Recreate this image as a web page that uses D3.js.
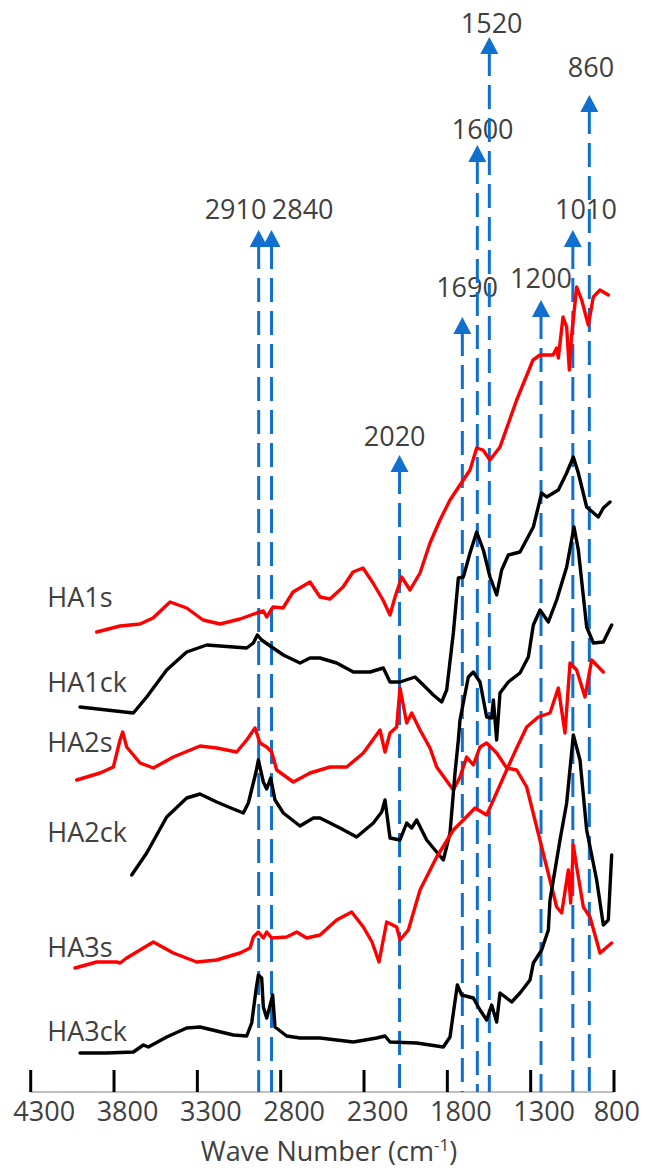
<!DOCTYPE html>
<meta charset="utf-8">
<style>
body{ margin:0; background:#fff; }
svg{ display:block; font-family:"Open Sans", "Noto Sans", sans-serif; }
.lbl{ fill:#404040; font-size:27px; }
.spec{ fill:none; stroke-width:3.4; stroke-linejoin:round; stroke-linecap:round; }
</style>
<svg width="645" height="1170"></svg>
<script src="https://d3js.org/d3.v7.min.js"></script>
<script>
// spectra: [wave number, intensity a.u. (offset)]
var ha1s = [[3904,460],[3764,466],[3644,468],[3566,474],[3464,490],[3364,484],[3266,472],[3164,468],[3044,473],[2944,479],[2904,481],[2884,475],[2846,485],[2786,484],[2726,500],[2624,510],[2564,495],[2504,493],[2426,505],[2366,520],[2306,524],[2246,509],[2186,492],[2144,477],[2114,495],[2074,515],[2024,502],[1964,519],[1904,549],[1844,572],[1784,592],[1744,602],[1664,622],[1624,644],[1586,642],[1544,632],[1484,645],[1384,692],[1286,732],[1244,737],[1166,737],[1144,744],[1134,734],[1106,775],[1084,765],[1068,722],[1054,757],[1024,805],[994,792],[954,767],[924,795],[884,802],[834,797]];
var ha1ck = [[4004,385],[3844,382],[3684,379],[3604,395],[3484,422],[3364,440],[3244,447],[3084,445],[3004,444],[2964,449],[2940,457],[2914,452],[2854,445],[2784,437],[2684,429],[2624,434],[2564,434],[2464,429],[2364,420],[2264,420],[2184,424],[2144,410],[2084,410],[1994,415],[1944,407],[1884,397],[1834,390],[1804,402],[1764,459],[1734,514],[1704,515],[1664,539],[1624,560],[1584,542],[1544,515],[1504,497],[1474,522],[1434,537],[1364,540],[1284,565],[1234,599],[1204,595],[1134,602],[1084,619],[1044,635],[1014,619],[964,585],[894,575],[864,584],[824,590]];
var ha2s = [[4024,312],[3884,319],[3804,325],[3764,352],[3748,360],[3724,345],[3644,329],[3564,324],[3444,335],[3284,346],[3184,344],[3064,340],[3004,352],[2954,364],[2924,349],[2884,345],[2854,340],[2824,322],[2724,310],[2624,319],[2504,325],[2404,325],[2304,339],[2204,362],[2174,340],[2144,359],[2104,365],[2084,404],[2044,369],[2014,379],[1964,362],[1904,344],[1864,325],[1764,302],[1724,315],[1684,335],[1644,327],[1604,345],[1564,349],[1504,339],[1444,324],[1384,322],[1324,305],[1264,265],[1204,225],[1144,185],[1114,179],[1074,222],[1060,189],[1044,247],[1024,225],[984,185],[944,175],[884,139],[814,149]];
var ha2ck = [[3694,217],[3604,239],[3484,275],[3364,294],[3284,298],[3184,290],[3084,283],[3024,279],[2994,289],[2948,320],[2934,332],[2904,310],[2884,303],[2860,314],[2834,292],[2784,279],[2684,266],[2604,274],[2564,274],[2444,264],[2344,255],[2244,269],[2194,280],[2174,292],[2144,254],[2084,252],[2044,269],[2014,264],[1984,272],[1924,252],[1824,232],[1784,259],[1754,319],[1734,352],[1724,372],[1674,415],[1644,420],[1604,410],[1564,375],[1534,374],[1524,392],[1504,352],[1484,399],[1434,410],[1364,419],[1314,435],[1284,467],[1244,482],[1194,470],[1144,492],[1084,525],[1040,565],[1014,542],[964,465],[924,449],[864,450],[814,467]];
var ha3s = [[4034,124],[3904,130],[3784,130],[3764,129],[3724,134],[3664,140],[3564,150],[3444,139],[3304,130],[3184,132],[3044,139],[2984,144],[2964,155],[2934,160],[2904,154],[2884,160],[2854,154],[2764,155],[2704,160],[2644,154],[2564,157],[2464,172],[2374,180],[2304,165],[2252,150],[2210,130],[2164,170],[2104,165],[2084,152],[2034,162],[1964,202],[1864,235],[1764,262],[1704,272],[1634,284],[1564,277],[1524,292],[1444,322],[1384,344],[1324,365],[1254,375],[1184,379],[1134,404],[1094,359],[1064,429],[1024,422],[974,395],[934,432],[864,420]];
var ha3ck = [[4004,39],[3844,39],[3684,40],[3624,47],[3594,45],[3484,55],[3364,64],[3284,65],[3184,61],[3084,57],[3004,56],[2974,69],[2948,102],[2934,117],[2914,114],[2904,85],[2884,74],[2860,89],[2848,97],[2834,65],[2764,56],[2684,54],[2564,54],[2364,50],[2224,54],[2174,56],[2144,50],[1984,49],[1824,45],[1784,55],[1764,79],[1740,107],[1714,97],[1644,94],[1604,82],[1564,72],[1534,87],[1504,70],[1484,99],[1414,90],[1364,99],[1304,112],[1284,129],[1234,142],[1194,162],[1184,192],[1124,252],[1084,289],[1044,357],[1004,332],[964,262],[904,212],[864,167],[834,172],[814,237]];

var seriesNames = ["HA1s", "HA1ck", "HA2s", "HA2ck", "HA3s", "HA3ck"];
var seriesData = [ha1s, ha1ck, ha2s, ha2ck, ha3s, ha3ck];
var seriesColors = ["#ff0000", "#000000", "#ff0000", "#000000", "#ff0000", "#000000"];
// where the names sit: wave number of left edge, intensity of baseline
var nameWn = [4200, 4200, 4200, 4200, 4200, 4200];
var nameY = [485, 400, 340, 250, 135, 51];

// marked peaks
var peakLabels = ["2910", "2840", "2020", "1690", "1600", "1520", "1200", "1010", "860"];
var peakWn = [2932, 2855, 2087, 1710, 1620, 1548, 1238, 1047, 948];
var peakTop = [862, 862, 637, 775, 947, 1055, 792, 862, 997];
var peakLabelWn = [3071, 2668, 2116, 1682, 1588, 1534, 1238, 968, 938];
var peakLabelY = [873, 873, 646, 795, 953, 1059, 804, 873, 1015];

var xTicks = [4300, 3800, 3300, 2800, 2300, 1800, 1300, 800];

var svg = d3.select("svg");
var x = d3.scaleLinear().domain([4300, 800]).range([30.7, 614]);
var y = d3.scaleLinear().domain([0, 1092]).range([1092, 0]);

// axis
var ax = svg.append("g").attr("transform", "translate(0," + y(0) + ")");
ax.append("line").attr("x1", x(4300)).attr("x2", x(800))
  .attr("stroke", "#bfbfbf").attr("stroke-width", 2);
ax.selectAll(".tk").data(xTicks).enter().append("line")
  .attr("x1", function(d){ return x(d); }).attr("x2", function(d){ return x(d); })
  .attr("y1", 0).attr("y2", -22)
  .attr("stroke", "#000").attr("stroke-width", 3);
ax.selectAll(".tl").data(xTicks).enter().append("text")
  .attr("class", "lbl")
  .attr("y", 29)
  .attr("text-anchor", "middle")
  .text(function(d){ return d; })
  .attr("x", function(d){
    var w = this.getComputedTextLength();
    return Math.min(x(d) + 13.5, 640 - w / 2);
  });

var title = svg.append("text").attr("class", "lbl")
  .attr("x", 329).attr("y", 1161).attr("text-anchor", "middle");
title.append("tspan").text("Wave Number (cm");
title.append("tspan").attr("font-size", 17).attr("dy", -10).text("-1");
title.append("tspan").attr("dy", 10).text(")");

// dashed peak markers
var pk = svg.append("g");
peakWn.forEach(function(w, i){
  var px = x(w), top = y(peakTop[i]);
  pk.append("line")
    .attr("x1", px).attr("x2", px)
    .attr("y1", top + 15).attr("y2", y(0))
    .attr("stroke", "#1070d0").attr("stroke-width", 3)
    .attr("stroke-dasharray", "24 9");
  pk.append("path")
    .attr("d", "M" + px + "," + top + "L" + (px + 9) + "," + (top + 17) + "L" + (px - 9) + "," + (top + 17) + "Z")
    .attr("fill", "#1070d0");
  pk.append("text").attr("class", "lbl")
    .attr("x", x(peakLabelWn[i])).attr("y", y(peakLabelY[i]))
    .attr("text-anchor", "middle")
    .text(peakLabels[i]);
});

// spectra
var line = d3.line().x(function(d){ return x(d[0]); }).y(function(d){ return y(d[1]); });
seriesData.forEach(function(s, i){
  svg.append("path").attr("class", "spec")
    .attr("d", line(s))
    .attr("stroke", seriesColors[i]);
  svg.append("text").attr("class", "lbl")
    .attr("x", x(nameWn[i])).attr("y", y(nameY[i]))
    .text(seriesNames[i]);
});
</script>
